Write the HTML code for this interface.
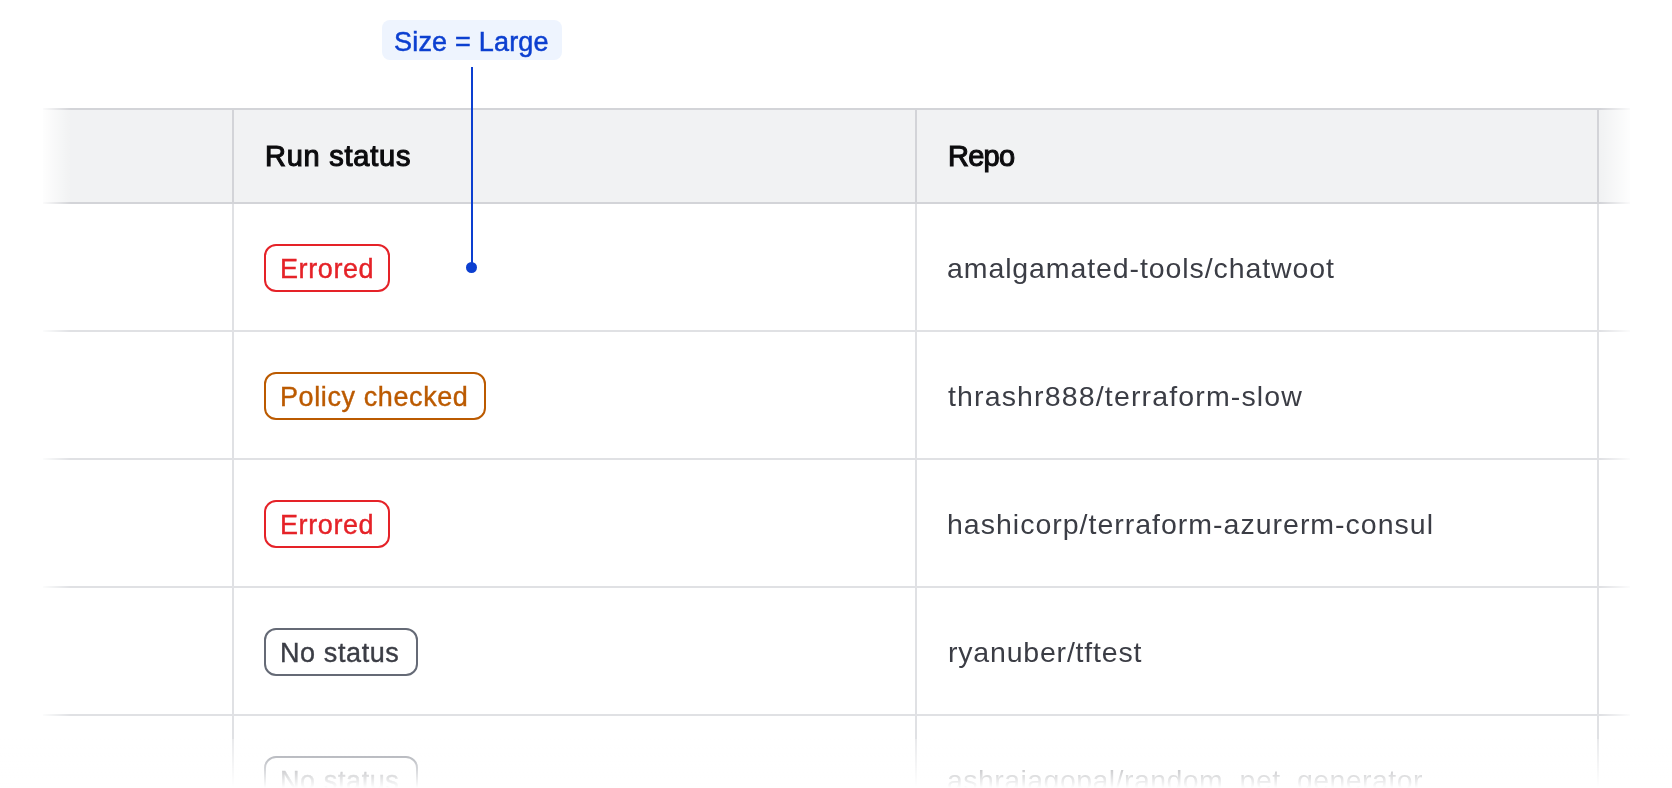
<!DOCTYPE html>
<html>
<head>
<meta charset="utf-8">
<style>
html,body{margin:0;padding:0;}
body{width:1672px;height:788px;overflow:hidden;background:#fff;position:relative;font-family:"Liberation Sans",sans-serif;}
.abs{position:absolute;}
.hbg{left:0;width:1672px;top:110px;height:92px;background:#f1f2f3;}
.hl{left:0;width:1672px;height:2px;}
.vl{width:2px;}
.t{position:absolute;white-space:nowrap;line-height:1;will-change:transform;}
.hd{font-size:29px;font-weight:normal;color:#0c0c0e;-webkit-text-stroke:1.1px #0c0c0e;}
.rp{font-size:28.5px;color:#3b3d45;letter-spacing:0.9px;}
.badge{position:absolute;left:264px;height:48px;box-sizing:border-box;border:2px solid;border-radius:12px;background:#fff;}
.badge span{will-change:transform;position:absolute;white-space:nowrap;line-height:1;font-size:27px;letter-spacing:0.6px;-webkit-text-stroke:0.4px currentColor;}
.red{border-color:#e52228;color:#e52228;}
.org{border-color:#bb5a00;color:#bb5a00;}
.gry{border-color:#656a76;color:#3b3d45;}
</style>
</head>
<body>
<div class="abs hbg"></div>
<div class="abs hl" style="top:108px;background:#d3d4d8;"></div>
<div class="abs hl" style="top:202px;background:#d3d4d8;"></div>
<div class="abs hl" style="top:330px;background:#e0e1e4;"></div>
<div class="abs hl" style="top:458px;background:#e0e1e4;"></div>
<div class="abs hl" style="top:586px;background:#e0e1e4;"></div>
<div class="abs hl" style="top:714px;background:#e0e1e4;"></div>

<div class="abs vl" style="left:232px;top:110px;height:92px;background:#d3d4d8;"></div>
<div class="abs vl" style="left:915px;top:110px;height:92px;background:#d3d4d8;"></div>
<div class="abs vl" style="left:1597px;top:110px;height:92px;background:#d3d4d8;"></div>
<div class="abs vl" style="left:232px;top:204px;height:584px;background:#e0e1e4;"></div>
<div class="abs vl" style="left:915px;top:204px;height:584px;background:#e0e1e4;"></div>
<div class="abs vl" style="left:1597px;top:204px;height:584px;background:#e0e1e4;"></div>

<div class="t hd" id="h1" style="left:265px;top:142.4px;letter-spacing:0.75px;">Run status</div>
<div class="t hd" id="h2" style="left:948px;top:142.4px;letter-spacing:-0.75px;">Repo</div>

<div class="badge red" style="top:244px;width:126px;"><span style="left:14px;top:9.6px;">Errored</span></div>
<div class="badge org" style="top:372px;width:222px;"><span style="left:14px;top:9.6px;">Policy checked</span></div>
<div class="badge red" style="top:500px;width:126px;"><span style="left:14px;top:9.6px;">Errored</span></div>
<div class="badge gry" style="top:628px;width:154px;"><span style="left:14px;top:9.6px;">No status</span></div>
<div class="badge gry" style="top:756px;width:154px;"><span style="left:14px;top:9.6px;">No status</span></div>

<div class="t rp" id="r1" style="left:947px;top:254.2px;">amalgamated-tools/chatwoot</div>
<div class="t rp" id="r2" style="left:948px;top:382.2px;letter-spacing:1.15px;">thrashr888/terraform-slow</div>
<div class="t rp" id="r3" style="left:947px;top:510.2px;letter-spacing:1.0px;">hashicorp/terraform-azurerm-consul</div>
<div class="t rp" id="r4" style="left:948px;top:638.2px;letter-spacing:0.8px;">ryanuber/tftest</div>
<div class="t rp" id="r5" style="left:947px;top:766.2px;letter-spacing:0.45px;">ashrajagopal/random_pet_generator</div>

<!-- fades -->
<div class="abs" style="left:0;top:100px;width:43px;height:688px;background:#fff;"></div>
<div class="abs" style="left:43px;top:100px;width:28px;height:688px;background:linear-gradient(to right,rgba(255,255,255,0.9),rgba(255,255,255,0));"></div>
<div class="abs" style="left:1600px;top:100px;width:30px;height:688px;background:linear-gradient(to left,rgba(255,255,255,0.9),rgba(255,255,255,0));"></div>
<div class="abs" style="left:1630px;top:100px;width:42px;height:688px;background:#fff;"></div>
<div class="abs" style="left:0;top:739px;width:1672px;height:49px;background:linear-gradient(to bottom,rgba(255,255,255,0.3),#fff);"></div>

<!-- annotation -->
<div class="abs" style="left:382px;top:20px;width:180px;height:40px;background:#eef4fe;border-radius:8px;"></div>
<div class="t" id="pill" style="left:394px;top:29px;font-size:27px;color:#0c3fd0;letter-spacing:0.2px;-webkit-text-stroke:0.5px #0c3fd0;">Size = Large</div>
<div class="abs" style="left:471px;top:67px;width:2px;height:200px;background:#0c3fd0;"></div>
<div class="abs" style="left:466px;top:262.3px;width:11px;height:11px;border-radius:50%;background:#0c3fd0;"></div>
</body>
</html>
